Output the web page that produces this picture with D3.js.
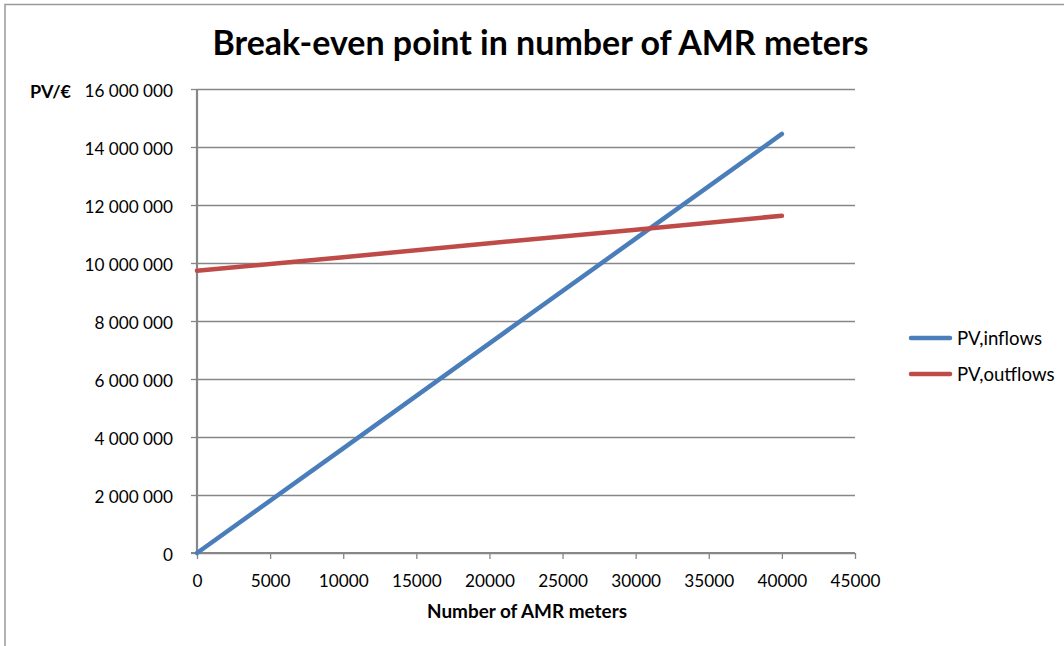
<!DOCTYPE html>
<html>
<head>
<meta charset="utf-8">
<script src="https://cdn.jsdelivr.net/npm/d3@7"></script>
<style>
  html, body { margin: 0; padding: 0; background: #fff; }
  svg { display: block; font-family: Lato, "Open Sans", sans-serif; }
</style>
</head>
<body>
<svg id="chart" width="1064" height="646"></svg>
<script>
// Break-even analysis: present value of inflows vs outflows by number of AMR meters
const meters   = [0, 10000, 20000, 30000, 40000];
const inflows  = [0, 3610000, 7230000, 10840000, 14450000];
const outflows = [9730000, 10200000, 10680000, 11150000, 11630000];

const seriesNames  = ["PV,inflows", "PV,outflows"];
const seriesColors = ["#4A7EBB", "#BE4B48"];

const xTicks = [0, 5000, 10000, 15000, 20000, 25000, 30000, 35000, 40000, 45000];
const yTicks = [0, 2000000, 4000000, 6000000, 8000000, 10000000, 12000000, 14000000, 16000000];

const titleText  = "Break-even point in number of AMR meters";
const xTitleText = "Number of AMR meters";
const yTitleText = "PV/€";

const svg = d3.select("#chart");
const W = 1064, H = 646;
const plot = { left: 197, right: 855, top: 89, bottom: 553 };

const spaced = d3.formatLocale({ decimal: ",", thousands: " ", grouping: [3], currency: ["", "€"] }).format(",.0f");

const x = d3.scaleLinear().domain([0, 45000]).range([plot.left, plot.right]);
const y = d3.scaleLinear().domain([0, 16000000]).range([plot.bottom, plot.top]);

// scale a text element's font size so it spans the given width
function fitWidth(sel, width) {
  const node = sel.node();
  const fs = parseFloat(sel.attr("font-size"));
  const w = node.getComputedTextLength();
  sel.attr("font-size", (fs * width / w).toFixed(2));
  return sel;
}

// chart frame
svg.append("rect")
  .attr("x", 5).attr("y", 4.5)
  .attr("width", W + 10).attr("height", H + 10)
  .attr("fill", "#fff").attr("stroke", "#9a9a9a").attr("stroke-width", 1.5);

// title
fitWidth(svg.append("text")
  .attr("x", 540.5).attr("y", 55)
  .attr("text-anchor", "middle")
  .attr("font-weight", "bold").attr("font-size", 30)
  .attr("fill", "#000")
  .text(titleText), 656);

// horizontal gridlines
const gridAxis = d3.axisLeft(y).tickValues(yTicks).tickSize(-(plot.right - plot.left)).tickFormat("");
svg.append("g")
  .attr("transform", `translate(${plot.left},0)`)
  .call(gridAxis)
  .call(g => g.select(".domain").remove())
  .call(g => g.selectAll("line").attr("stroke", "#878787").attr("stroke-width", 1.3));

// y axis
const yAxis = d3.axisLeft(y).tickValues(yTicks).tickSize(6).tickPadding(18).tickFormat(d => spaced(d));
const gy = svg.append("g")
  .attr("transform", `translate(${plot.left},0)`)
  .call(yAxis);
gy.select(".domain").attr("stroke", "#878787").attr("stroke-width", 2.2).attr("d", `M0,${plot.bottom}V${plot.top}`);
gy.selectAll(".tick line").attr("stroke", "#878787").attr("stroke-width", 1.3);
gy.selectAll(".tick text").attr("font-size", 17.2).attr("font-family", "Lato, sans-serif").attr("fill", "#000").attr("dy", "0.42em");

// x axis
const xAxis = d3.axisBottom(x).tickValues(xTicks).tickSize(6).tickPadding(16).tickFormat(d3.format("d"));
const gx = svg.append("g")
  .attr("transform", `translate(0,${plot.bottom})`)
  .call(xAxis);
gx.select(".domain").attr("stroke", "#878787").attr("stroke-width", 2.2).attr("d", `M${plot.left - 6},0H${plot.right}`);
gx.selectAll(".tick line").attr("stroke", "#878787").attr("stroke-width", 1.3);
gx.selectAll(".tick text").attr("font-size", 17.2).attr("font-family", "Lato, sans-serif").attr("fill", "#000");

// axis titles
fitWidth(svg.append("text")
  .attr("x", 527).attr("y", 618)
  .attr("text-anchor", "middle")
  .attr("font-weight", "bold").attr("font-size", 15)
  .text(xTitleText), 200);

fitWidth(svg.append("text")
  .attr("x", 30).attr("y", 98)
  .attr("font-weight", "bold").attr("font-size", 15)
  .text(yTitleText), 41);

// series lines
const line = d3.line().x(d => x(d[0])).y(d => y(d[1]));
const seriesData = [inflows, outflows].map(vals => meters.map((m, i) => [m, vals[i]]));

svg.append("g").selectAll("path")
  .data(seriesData)
  .join("path")
  .attr("d", line)
  .attr("fill", "none")
  .attr("stroke", (d, i) => seriesColors[i])
  .attr("stroke-width", 4.5)
  .attr("stroke-linecap", "round");

// legend
const legend = svg.append("g").attr("transform", "translate(910,338)");
seriesNames.forEach((name, i) => {
  const gi = legend.append("g").attr("transform", `translate(0,${i * 36})`);
  gi.append("line")
    .attr("x1", 1).attr("x2", 40)
    .attr("stroke", seriesColors[i]).attr("stroke-width", 4.5).attr("stroke-linecap", "round");
  gi.append("text")
    .attr("x", 47).attr("y", 0).attr("dy", "0.38em")
    .attr("font-size", 18.6).attr("fill", "#000")
    .text(name);
});
</script>
</body>
</html>
